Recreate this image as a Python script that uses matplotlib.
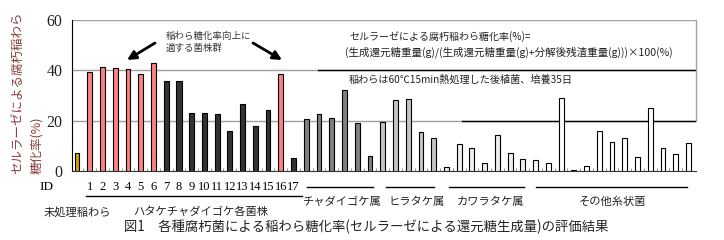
import numpy as np
import matplotlib
matplotlib.use("Agg")
import matplotlib.pyplot as plt
from matplotlib.transforms import blended_transform_factory

plt.rcParams["font.family"] = ["Noto Sans CJK JP", "DejaVu Sans"]

# ── data ─────────────────────────────────────────────────────────────────
untreated = [7.1]
hatake = [39.4, 41.4, 41.0, 40.6, 38.6, 43.0, 35.6, 35.6, 23.2, 23.2,
          22.8, 15.7, 26.8, 17.7, 24.4, 38.6, 5.0]
hatake_good = [1, 2, 3, 4, 5, 6, 16]          # strains marked in red
chadaigoke = [20.8, 22.8, 21.2, 32.3, 18.9, 5.9]
hiratake = [19.6, 28.1, 28.7, 15.3, 13.3]
kawaratake = [1.5, 10.6, 9.0, 3.0, 14.5, 7.0, 4.6]
sonota = [4.2, 3.0, 29.1, 0.4, 2.0, 15.7, 11.7, 13.0, 5.4, 25.2, 9.0, 6.6, 11.3]

ids = [str(i) for i in range(1, 18)]
groups = ["チャダイゴケ属", "ヒラタケ属", "カワラタケ属", "その他糸状菌"]
yticks = [0, 20, 40, 60]

# ── colours per bar ──────────────────────────────────────────────────────
values = untreated + hatake + chadaigoke + hiratake + kawaratake + sonota
colors = ["#d4a000"]
colors += ["#ff8080" if i in hatake_good else "#333333" for i in range(1, 18)]
colors += ["#808080"] * len(chadaigoke)
colors += ["#c4c4c4"] * len(hiratake)
colors += ["#eeeeee"] * len(kawaratake)
colors += ["#ffffff"] * len(sonota)
x = np.arange(len(values))
widths = np.full(len(values), 0.38)
widths[8] = 0.5

W, H = 724, 240
fig = plt.figure(figsize=(W / 100, H / 100), dpi=100)
ax = fig.add_axes([72 / W, 69 / H, 624 / W, 151 / H])

def fx(px):
    return px / W

def fy(py):
    return 1 - py / H

ax.bar(x, values, width=widths, color=colors, edgecolor="black", linewidth=0.8, zorder=3)
ax.set_xlim(-0.39, 48.59)
ax.set_ylim(0, 60)
ax.set_yticks(yticks)
ax.set_yticklabels([str(v) for v in yticks], family="Liberation Serif",
                   fontsize=11.5, color="#222222")
ax.tick_params(axis="y", length=0, pad=7)
ax.set_xticks(x[:-1] + 0.5)
ax.tick_params(axis="x", direction="in", length=2, color="#999999", labelbottom=False)

for s in ["top", "right"]:
    ax.spines[s].set_visible(False)
ax.spines["left"].set_color("black")
ax.spines["bottom"].set_color("#333333")

# grid lines (gray) and black box segments
for yv in [20, 40, 60]:
    ax.axhline(yv, color="#a0a0a0", lw=1.0, zorder=1)
ax.plot([(318 - 77) / 12.74, 48.59], [40, 40], color="black", lw=1.0, zorder=2)
ax.plot([(462 - 77) / 12.74, 48.59], [20, 20], color="black", lw=1.0, zorder=2)
ax.plot([48.59, 48.59], [20, 60], color="#a0a0a0", lw=1.0, clip_on=False)

# y label (two rotated lines, bottom aligned)
fig.text(fx(18), fy(174), "セルラーゼによる腐朽稲わら", rotation=90,
         ha="center", va="bottom", fontsize=9, color="#8B3A3A")
fig.text(fx(37), fy(174), "糖化率(%)", rotation=90,
         ha="center", va="bottom", fontsize=9, color="#8B3A3A")

# annotation with arrows
fig.text(fx(166), fy(31), "稲わら糖化率向上に\n適する菌株群", ha="left", va="top",
         fontsize=6.8, color="#333333", linespacing=1.4)
arrow = dict(arrowstyle="-|>", lw=2, color="black", mutation_scale=13, shrinkA=0, shrinkB=0)
ax.annotate("", xy=(fx(127), fy(60)), xytext=(fx(155), fy(43)),
            xycoords="figure fraction", textcoords="figure fraction", arrowprops=arrow)
ax.annotate("", xy=(fx(282), fy(60)), xytext=(fx(253), fy(43)),
            xycoords="figure fraction", textcoords="figure fraction", arrowprops=arrow)

# formula text
fig.text(fx(349), fy(37), "セルラーゼによる腐朽稲わら糖化率(%)=", ha="left", va="center",
         fontsize=7.2, color="#222222")
fig.text(fx(345), fy(52), "(生成還元糖重量(g)/(生成還元糖重量(g)+分解後残渣重量(g)))×100(%)",
         ha="left", va="center", fontsize=7.6, color="#222222")
fig.text(fx(349), fy(80), "稲わらは60℃15min熱処理した後植菌、培養35日", ha="left",
         va="center", fontsize=7.3, color="#222222")

# ID row
bt = blended_transform_factory(ax.transData, fig.transFigure)
fig.text(fx(46), fy(187), "ID", ha="center", va="center", family="Liberation Serif",
         fontsize=9.5)
for i, lab in enumerate(ids):
    ax.text(i + 1, fy(187), lab, transform=bt, ha="center", va="center",
            family="Liberation Serif", fontsize=9)

# group underlines
ax.plot([0.71, 17.66], [fy(196), fy(196)], transform=bt, color="black", lw=1.0, clip_on=False)
for x0, x1 in [(18.05, 23.2), (24.25, 28.0), (29.2, 35.1), (36.0, 47.9)]:
    ax.plot([x0, x1], [fy(187), fy(187)], transform=bt, color="black", lw=1.0, clip_on=False)

for lab, cx in zip(groups, [341, 417, 491, 613]):
    fig.text(fx(cx), fy(202), lab, ha="center", va="center", fontsize=8.1, color="#222222")
fig.text(fx(77), fy(212), "未処理稲わら", ha="center", va="center", fontsize=8.1, color="#222222")
fig.text(fx(201), fy(212), "ハタケチャダイゴケ各菌株", ha="center", va="center",
         fontsize=8.1, color="#222222")

fig.text(fx(366), fy(227), "図1　各種腐朽菌による稲わら糖化率(セルラーゼによる還元糖生成量)の評価結果",
         ha="center", va="center", fontsize=9.6, color="#222222")

fig.savefig("out.png", dpi=100)
